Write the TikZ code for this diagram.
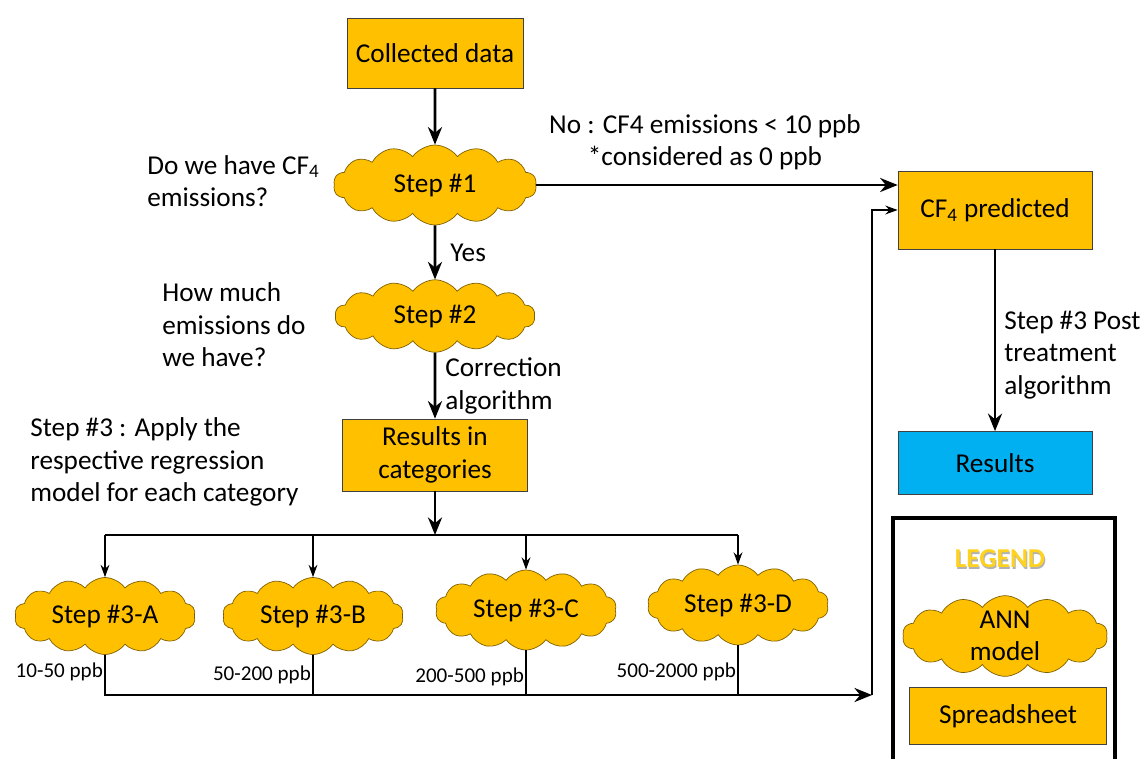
\documentclass[tikz,border=0pt]{standalone}
\usepackage{fontspec}
\setmainfont{Carlito}
\usetikzlibrary{shapes.symbols,arrows.meta,positioning}
\definecolor{amber}{HTML}{FFC000}
\definecolor{amberline}{HTML}{7F6000}
\definecolor{sky}{HTML}{00B0F0}
\definecolor{legendgold}{HTML}{FFD21F}
\newcommand{\bigtxt}{\fontsize{15.5}{18.5}\selectfont}
\newcommand{\smalltxt}{\fontsize{12}{14}\selectfont}

\tikzset{
  sheet/.style={draw=black!75, fill=amber, minimum width=3.52cm, minimum height=1.4cm, align=center, font=\bigtxt},
  ann/.style={cloud, cloud puffs=14, cloud puff arc=110, cloud ignores aspect, inner sep=0pt, draw=amberline, fill=amber, minimum width=3.62cm, minimum height=1.54cm, align=center, font=\bigtxt},
  flow/.style={-{Stealth[length=10pt,width=8pt]}, line width=1.5pt},
  split/.style={-{Stealth[length=7pt,width=5pt]}, line width=1pt},
  note/.style={align=left, anchor=west, inner sep=0pt, font=\bigtxt},
  ppblabel/.style={anchor=east, inner sep=1pt, font=\smalltxt},
}

\begin{document}
\begin{tikzpicture}[x=0.02cm, y=-0.02cm]
		\useasboundingbox (0,0) rectangle (1141,758);
		%
		\node [sheet] (data) at (435,53) {Collected data};
		\node [ann, minimum width=4.06cm, minimum height=1.6cm] (s1) at (435,185) {Step \#1};
		\node [ann, minimum width=4cm, minimum height=1.45cm] (s2) at (435,316) {Step \#2};
		\node [sheet, minimum width=3.7cm, minimum height=1.44cm] (cat) at (435,455) {Results in\\categories};
		\node [sheet, minimum width=3.88cm, minimum height=1.56cm] (pred) at (995,210) {CF\textsubscript{4} predicted};
		\node [sheet, fill=sky, minimum width=3.88cm, minimum height=1.26cm] (res) at (995,463) {Results};
		%
		\node [ann] (ca) at (105,616) {Step \#3-A};
		\node [ann] (cb) at (313,616) {Step \#3-B};
		\node [ann, minimum height=1.6cm] (cc) at (526,610) {Step \#3-C};
		\node [ann, minimum height=1.6cm] (cd) at (738,605) {Step \#3-D};
		%
		\node [note] (q1) at (147,181) {Do we have CF\textsubscript{4}\\emissions?};
		\node [note] (q2) at (162,325) {How much\\emissions do\\we have?};
		\node [note] (q3) at (30,462) {Step \#3 : Apply the\\respective regression\\model for each category};
		\node [note, anchor=center, align=center] (no) at (705,142) {No : CF4 emissions < 10 ppb\\*considered as 0 ppb};
		\node [note] (corr) at (445,386) {Correction\\algorithm};
		\node [note] (post) at (1004,355) {Step \#3 Post\\treatment\\algorithm};
		%
		\draw [flow] (data) -- (s1);
		\draw [flow] (s1.east) -- (s1.east -| pred.west);
		\draw [flow] (s1) -- node [right, font=\bigtxt, inner sep=8pt] {Yes} (s2);
		\draw [flow] (s2) -- (cat);
		\draw [flow] (pred) -- (res);
		%
		\coordinate (fork) at (435,535);
		\draw [flow] (cat) -- (fork);
		\draw [line width=1.5pt] (fork -| ca) -- (fork -| cd);
		\foreach \c in {ca,cb,cc,cd}
			\draw [split] (fork -| \c) -- (\c.north);
		%
		\coordinate (base) at (872,695);
		\draw [flow] (ca.south) |- (base);
		\foreach \c in {cb,cc,cd}
			\draw [line width=1.5pt] (\c.south) -- (\c.south |- base);
		\draw [split] (base) |- (pred.west);
		%
		\node [ppblabel] (ra) at (ca.south |- 0,672) {10-50 ppb};
		\node [ppblabel] (rb) at (cb.south |- 0,675) {50-200 ppb};
		\node [ppblabel] (rc) at (cc.south |- 0,677) {200-500 ppb};
		\node [ppblabel] (rd) at (cd.south |- 0,672) {500-2000 ppb};
		%
		\draw [line width=2pt] (893,518) rectangle (1115,770);
		\node [font=\bigtxt\bfseries, text=black!30] at (1001,561) {LEGEND};
		\node [font=\bigtxt\bfseries, text=legendgold] (legend) at (1000,559) {LEGEND};
		\node [ann, minimum width=4.1cm, minimum height=1.54cm] (annkey) at (1005,636) {ANN\\model};
		\node [sheet, minimum width=3.94cm, minimum height=1.14cm] (sheetkey) at (1008,716) {Spreadsheet};
	\end{tikzpicture}
\end{document}
